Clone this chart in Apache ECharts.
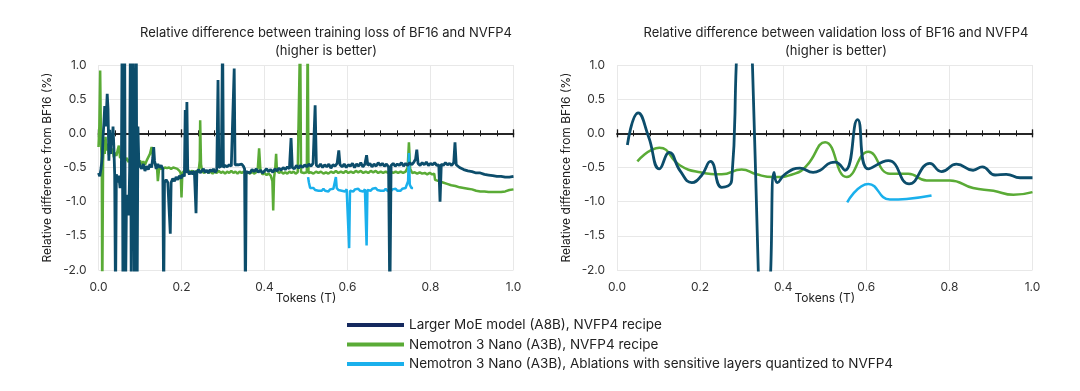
<!DOCTYPE html>
<html><head><meta charset="utf-8">
<script src="https://cdn.jsdelivr.net/npm/echarts@6/dist/echarts.min.js"></script>
<style>html,body{margin:0;padding:0;background:#fff}#c{width:1080px;height:391px}</style>
</head><body><div id="c"></div>
<script>
const seriesNames = [
  'Larger MoE model (A8B), NVFP4 recipe',
  'Nemotron 3 Nano (A3B), NVFP4 recipe',
  'Nemotron 3 Nano (A3B), Ablations with sensitive layers quantized to NVFP4'
];
const chartTitles = [
  'Relative difference between training loss of BF16 and NVFP4\n(higher is better)',
  'Relative difference between validation loss of BF16 and NVFP4\n(higher is better)'
];
const xAxisName = 'Tokens (T)';
const yAxisName = 'Relative difference from BF16 (%)';

// Training loss: Larger MoE model (A8B)
const trainMoe = [
[0.000,-0.58],[0.003,-0.63],[0.006,-0.52],[0.009,-0.35],[0.011,-0.05],[0.013,0.15],[0.015,0.40],[0.017,0.10],[0.019,0.30],[0.021,0.58],
[0.023,0.35],[0.025,-0.40],[0.027,0.05],[0.029,-0.30],[0.031,0.00],[0.033,-0.15],[0.035,0.10],[0.037,-0.20],[0.039,-0.60],[0.041,-2.50],
[0.043,-0.60],[0.046,-0.72],[0.049,-0.62],[0.052,-0.80],[0.055,-0.70],[0.057,1.50],[0.059,-2.50],[0.061,-1.10],[0.063,1.50],[0.065,-2.50],
[0.067,-1.20],[0.069,-1.05],[0.071,-0.90],[0.073,-1.20],[0.075,-0.55],[0.077,1.50],[0.079,-2.50],[0.081,0.80],[0.083,1.50],[0.085,-0.40],
[0.087,-2.50],[0.089,-0.30],[0.091,1.50],[0.093,-2.50],[0.095,0.10],[0.097,-0.40],[0.100,-0.48],[0.104,-0.52],[0.108,-0.45],[0.112,-0.55],
[0.116,-0.48],[0.120,-0.53],[0.124,-0.45],[0.128,-0.50],[0.131,-0.35],[0.133,-0.20],[0.135,-0.40],[0.139,-0.52],[0.143,-0.45],[0.147,-0.50],
[0.151,-0.47],[0.155,-0.52],[0.157,-2.50],[0.159,-0.72],[0.163,-0.68],[0.167,-0.72],[0.171,-0.70],[0.173,-1.47],[0.175,-0.72],[0.179,-0.66],
[0.183,-0.70],[0.187,-0.64],[0.191,-0.68],[0.195,-0.62],[0.199,-0.66],[0.203,-0.60],[0.207,-0.63],[0.209,0.34],[0.211,-0.58],[0.213,0.46],
[0.215,-0.55],[0.219,-0.60],[0.223,-0.56],[0.227,-0.60],[0.231,-0.55],[0.235,-1.17],[0.237,-0.57],[0.241,-0.53],[0.245,-0.58],[0.249,-0.55],
[0.253,-0.52],[0.257,-0.57],[0.261,-0.54],[0.265,-0.58],[0.269,-0.53],[0.273,-0.56],[0.277,-0.52],[0.281,-0.57],[0.285,-0.54],[0.288,0.78],
[0.290,-0.50],[0.293,-0.52],[0.296,-0.48],[0.299,1.50],[0.301,-0.50],[0.305,-0.47],[0.310,-0.49],[0.315,-0.46],[0.320,-0.48],[0.324,-0.46],
[0.327,0.95],[0.329,-0.46],[0.333,-0.48],[0.337,-0.46],[0.341,-0.47],[0.345,-0.45],[0.349,-0.48],[0.352,-0.52],[0.354,-2.50],[0.356,-0.56],
[0.360,-0.55],[0.365,-0.58],[0.370,-0.53],[0.375,-0.56],[0.380,-0.52],[0.385,-0.57],[0.390,-0.54],[0.395,-0.58],[0.400,-0.55],[0.405,-0.52],
[0.410,-0.56],[0.415,-0.53],[0.420,-0.57],[0.425,-0.52],[0.430,-0.55],[0.435,-0.51],[0.440,-0.54],[0.445,-0.50],[0.450,-0.53],[0.455,-0.49],
[0.460,-0.52],[0.464,-0.07],[0.467,-0.50],[0.472,-0.52],[0.477,-0.47],[0.482,-0.51],[0.487,-0.47],[0.492,-0.50],[0.497,-0.46],[0.502,-0.49],
[0.507,-0.45],[0.512,-0.48],[0.517,-0.44],[0.522,0.41],[0.525,-0.47],[0.530,-0.49],[0.535,-0.45],[0.540,-0.50],[0.545,-0.46],[0.550,-0.49],
[0.555,-0.45],[0.560,-0.51],[0.565,-0.46],[0.570,-0.48],[0.575,-0.44],[0.579,-0.25],[0.582,-0.46],[0.587,-0.49],[0.592,-0.45],[0.597,-0.50],
[0.602,-0.46],[0.607,-0.48],[0.612,-0.44],[0.617,-0.50],[0.622,-0.45],[0.627,-0.48],[0.632,-0.43],[0.637,-0.49],[0.642,-0.45],[0.646,-0.32],
[0.649,-0.47],[0.654,-0.44],[0.659,-0.49],[0.664,-0.45],[0.669,-0.48],[0.674,-0.43],[0.679,-0.47],[0.684,-0.44],[0.689,-0.48],[0.694,-0.45],
[0.699,-0.49],[0.702,-2.50],[0.705,-0.47],[0.710,-0.44],[0.715,-0.48],[0.720,-0.45],[0.725,-0.47],[0.730,-0.43],[0.735,-0.48],[0.740,-0.44],
[0.745,-0.47],[0.750,-0.43],[0.755,-0.46],[0.760,-0.42],[0.764,-0.38],[0.767,-0.24],[0.770,-0.44],[0.775,-0.47],[0.780,-0.43],[0.785,-0.46],
[0.790,-0.42],[0.795,-0.47],[0.800,-0.44],[0.805,-0.46],[0.810,-0.43],[0.815,-0.47],[0.820,-0.46],[0.823,-1.00],[0.826,-0.45],[0.831,-0.47],
[0.836,-0.43],[0.841,-0.46],[0.846,-0.44],[0.851,-0.47],[0.856,-0.43],[0.859,-0.13],[0.862,-0.46],[0.870,-0.50],[0.880,-0.53],[0.890,-0.55],
[0.900,-0.56],[0.910,-0.58],[0.920,-0.58],[0.930,-0.60],[0.940,-0.61],[0.950,-0.62],[0.960,-0.63],[0.970,-0.63],[0.980,-0.64],[0.990,-0.64],
[1.000,-0.63]
];

// Training loss: Nemotron 3 Nano (A3B)
const trainNano = [
[0.000,-0.20],[0.002,0.10],[0.004,0.92],[0.006,-0.10],[0.008,-0.50],[0.009,-2.50],[0.011,-0.40],[0.013,-0.10],[0.015,-0.30],[0.017,-0.05],
[0.019,-0.25],[0.022,-0.15],[0.025,-0.32],[0.028,-0.18],[0.031,-0.30],[0.034,-0.22],[0.037,-0.35],[0.040,-0.28],[0.043,-0.33],[0.046,-0.25],
[0.049,-0.18],[0.052,-0.36],[0.056,-0.38],[0.060,-0.33],[0.064,-0.40],[0.068,-0.36],[0.072,-0.42],[0.076,-0.38],[0.080,-0.44],[0.084,-0.40],
[0.088,-0.45],[0.092,-0.41],[0.096,-0.44],[0.100,-0.40],[0.104,-0.45],[0.108,-0.41],[0.112,-0.46],[0.116,-0.40],[0.120,-0.38],[0.124,-0.30],
[0.128,-0.20],[0.131,-0.32],[0.134,-0.42],[0.138,-0.40],[0.141,-0.50],[0.143,-0.70],[0.146,-0.52],[0.150,-0.50],[0.155,-0.52],[0.160,-0.50],
[0.165,-0.51],[0.170,-0.50],[0.175,-0.52],[0.180,-0.50],[0.185,-0.51],[0.190,-0.52],[0.195,-0.55],[0.198,-0.58],[0.200,-0.94],[0.202,-0.58],
[0.206,-0.55],[0.211,-0.57],[0.216,-0.54],[0.221,-0.57],[0.226,-0.55],[0.231,-0.58],[0.236,-0.55],[0.241,-0.57],[0.244,-0.40],[0.245,0.19],
[0.247,-0.45],[0.250,-0.56],[0.255,-0.58],[0.260,-0.55],[0.265,-0.58],[0.270,-0.56],[0.275,-0.59],[0.280,-0.56],[0.285,-0.58],[0.290,-0.55],
[0.295,-0.58],[0.300,-0.56],[0.305,-0.59],[0.310,-0.56],[0.315,-0.58],[0.320,-0.55],[0.325,-0.58],[0.330,-0.56],[0.335,-0.59],[0.340,-0.56],
[0.345,-0.58],[0.350,-0.56],[0.355,-0.59],[0.360,-0.57],[0.365,-0.59],[0.370,-0.56],[0.375,-0.59],[0.380,-0.57],[0.384,-0.50],[0.387,-0.22],
[0.390,-0.52],[0.395,-0.60],[0.400,-0.58],[0.405,-0.61],[0.410,-0.59],[0.415,-0.62],[0.419,-0.70],[0.421,-1.13],[0.423,-0.65],[0.426,-0.50],
[0.428,-0.30],[0.430,-0.55],[0.435,-0.58],[0.440,-0.56],[0.445,-0.59],[0.450,-0.57],[0.455,-0.59],[0.460,-0.56],[0.465,-0.58],[0.470,-0.56],
[0.475,-0.59],[0.480,-0.57],[0.484,-0.58],[0.486,1.50],[0.488,-0.57],[0.495,-0.58],[0.502,-0.57],[0.504,1.50],[0.506,-0.58],[0.512,-0.57],
[0.518,-0.59],[0.524,-0.56],[0.530,-0.58],[0.536,-0.56],[0.542,-0.59],[0.548,-0.57],[0.554,-0.59],[0.560,-0.56],[0.566,-0.58],[0.572,-0.55],
[0.578,-0.58],[0.584,-0.56],[0.590,-0.58],[0.596,-0.55],[0.602,-0.58],[0.608,-0.56],[0.614,-0.58],[0.620,-0.55],[0.626,-0.57],[0.632,-0.55],
[0.638,-0.58],[0.644,-0.56],[0.650,-0.58],[0.656,-0.55],[0.662,-0.57],[0.668,-0.55],[0.674,-0.58],[0.680,-0.56],[0.686,-0.58],[0.692,-0.56],
[0.698,-0.58],[0.704,-0.56],[0.710,-0.58],[0.716,-0.56],[0.722,-0.58],[0.728,-0.56],[0.734,-0.58],[0.740,-0.56],[0.745,-0.50],[0.748,-0.13],
[0.751,-0.52],[0.756,-0.58],[0.762,-0.57],[0.768,-0.59],[0.774,-0.57],[0.780,-0.59],[0.786,-0.58],[0.792,-0.60],[0.798,-0.58],[0.804,-0.60],
[0.809,-0.59],[0.811,-0.68],[0.820,-0.70],[0.830,-0.72],[0.840,-0.74],[0.850,-0.76],[0.860,-0.77],[0.870,-0.79],[0.880,-0.80],[0.890,-0.81],
[0.900,-0.82],[0.910,-0.84],[0.920,-0.85],[0.930,-0.85],[0.940,-0.86],[0.950,-0.86],[0.960,-0.86],[0.970,-0.86],[0.980,-0.85],[0.990,-0.83],
[1.000,-0.82]
];

// Training loss: Nemotron 3 Nano (A3B) ablations
const trainAbl = [
[0.505,-0.64],[0.507,-0.72],[0.510,-0.80],[0.514,-0.82],[0.518,-0.80],[0.522,-0.83],[0.526,-0.81],[0.530,-0.84],[0.534,-0.82],[0.538,-0.84],
[0.542,-0.81],[0.546,-0.84],[0.550,-0.82],[0.554,-0.85],[0.558,-0.82],[0.562,-0.84],[0.566,-0.81],[0.570,-0.80],[0.572,-0.64],[0.574,-0.80],
[0.578,-0.83],[0.582,-0.81],[0.586,-0.84],[0.590,-0.82],[0.594,-0.85],[0.598,-0.82],[0.602,-0.84],[0.604,-1.68],[0.606,-0.84],[0.610,-0.82],
[0.614,-0.85],[0.618,-0.82],[0.622,-0.84],[0.626,-0.81],[0.630,-0.84],[0.634,-0.82],[0.638,-0.85],[0.642,-0.82],[0.646,-1.64],[0.648,-0.83],
[0.652,-0.81],[0.656,-0.84],[0.660,-0.81],[0.664,-0.83],[0.668,-0.80],[0.672,-0.83],[0.676,-0.81],[0.680,-0.84],[0.684,-0.82],[0.688,-0.84],
[0.692,-0.81],[0.696,-0.84],[0.700,-0.82],[0.704,-0.85],[0.708,-0.82],[0.712,-0.84],[0.716,-0.81],[0.720,-0.84],[0.724,-0.82],[0.728,-0.84],
[0.732,-0.81],[0.736,-0.83],[0.740,-0.80],[0.744,-0.82],[0.746,-0.70],[0.748,-0.29],[0.750,-0.75],[0.754,-0.80],[0.758,-0.80]
];

// Validation loss
const valMoe = [
[0.025,-0.17],[0.051,0.30],[0.076,-0.05],[0.102,-0.52],[0.126,-0.28],[0.152,-0.55],[0.180,-0.72],[0.203,-0.62],[0.225,-0.41],[0.252,-0.79],
[0.276,-0.69],[0.287,1.00],[0.306,4.00],[0.326,1.00],[0.340,-2.00],[0.355,-4.50],[0.370,-2.00],[0.378,-0.57],[0.386,-0.72],[0.404,-0.60],
[0.440,-0.51],[0.472,-0.57],[0.489,-0.54],[0.514,-0.43],[0.525,-0.42],[0.549,-0.54],[0.579,0.20],[0.605,-0.52],[0.653,-0.40],[0.703,-0.74],
[0.753,-0.44],[0.781,-0.56],[0.817,-0.45],[0.857,-0.54],[0.879,-0.49],[0.910,-0.61],[0.937,-0.60],[0.970,-0.65],[1.000,-0.65]
];
const valNano = [
[0.049,-0.41],[0.102,-0.21],[0.152,-0.47],[0.200,-0.57],[0.252,-0.60],[0.300,-0.53],[0.336,-0.60],[0.376,-0.64],[0.428,-0.59],[0.457,-0.47],
[0.501,-0.13],[0.553,-0.64],[0.605,-0.27],[0.657,-0.59],[0.701,-0.59],[0.745,-0.69],[0.801,-0.69],[0.857,-0.80],[0.906,-0.84],[0.954,-0.90],
[1.000,-0.86]
];
const valAbl = [
[0.554,-1.01],[0.605,-0.74],[0.657,-0.97],[0.697,-0.96],[0.757,-0.91]
];

const COLORS = ['#0c4d6b', '#5aab36', '#1ab0ec'];
const LEGEND_COLORS = ['#15295e', '#5aab36', '#1ab0ec'];
const FONT = 'Inter, "Noto Sans", sans-serif';

const grids = [
  {left: 98.5, right: 566.5, top: 65, bottom: 121, outerBoundsMode: 'none'},
  {left: 617, right: 47.5, top: 65, bottom: 121, outerBoundsMode: 'none'}
];

function labelAxis(g) {
  return {
    gridIndex: g, type: 'value', min: 0, max: 1, interval: 0.2, position: 'bottom',
    axisLine: {show: false, onZero: false}, axisTick: {show: false},
    axisLabel: {fontSize: 12, color: '#333', margin: 11, fontFamily: FONT, formatter: v => v.toFixed(1)},
    splitLine: {show: true, lineStyle: {color: '#e8e8e8', width: 1}},
    name: xAxisName, nameLocation: 'middle', nameGap: 22, nameMoveOverlap: false,
    nameTextStyle: {fontSize: 12, color: '#222', fontFamily: FONT}
  };
}
function zeroAxis(g, yIdx, inside) {
  return {
    gridIndex: g, type: 'value', min: 0, max: 1, interval: 0.2, position: 'bottom',
    axisLine: {show: true, onZero: true, onZeroAxisIndex: yIdx, lineStyle: {color: '#1a1a1a', width: 1.5}},
    axisTick: {show: true, inside: inside, length: 4, lineStyle: {color: '#1a1a1a', width: 1.3}},
    minorTick: {show: true, splitNumber: 5, length: 3, lineStyle: {color: '#1a1a1a', width: 1}},
    axisLabel: {show: false}, splitLine: {show: false}, minorSplitLine: {show: false}
  };
}
function yAx(g) {
  return {
    gridIndex: g, type: 'value', min: -2, max: 1, interval: 0.5,
    axisLine: {show: false, onZero: false}, axisTick: {show: false},
    axisLabel: {fontSize: 12, color: '#333', margin: 12, fontFamily: FONT, formatter: v => v.toFixed(1)},
    splitLine: {show: true, lineStyle: {color: '#e8e8e8', width: 1}},
    name: yAxisName, nameLocation: 'middle', nameGap: 45, nameMoveOverlap: false,
    nameTextStyle: {fontSize: 12, color: '#222', fontFamily: FONT}
  };
}

function lineSeries(name, data, xi, yi, color, width, smooth, z) {
  return {
    type: 'line', name: name, data: data, xAxisIndex: xi, yAxisIndex: yi,
    showSymbol: false, symbol: 'none', smooth: smooth, clip: true, z: z,
    lineStyle: {color: color, width: width}, itemStyle: {color: color},
    emphasis: {disabled: true}, animation: false
  };
}

const option = {
  animation: false,
  backgroundColor: '#ffffff',
  textStyle: {fontFamily: FONT},
  grid: grids,
  xAxis: [labelAxis(0), zeroAxis(0, 0, false), zeroAxis(0, 0, true),
          labelAxis(1), zeroAxis(1, 1, false), zeroAxis(1, 1, true)],
  yAxis: [yAx(0), yAx(1)],
  legend: {
    orient: 'vertical', left: 347, top: 317, padding: 0, itemGap: 3.5, itemWidth: 57, itemHeight: 4,
    icon: 'rect',
    textStyle: {fontSize: 13.5, color: '#222', fontFamily: FONT, lineHeight: 16},
    data: seriesNames.map((n, i) => ({name: n, icon: 'rect', itemStyle: {color: LEGEND_COLORS[i]}}))
  },
  graphic: chartTitles.map((t, i) => ({
    type: 'text', x: i === 0 ? 326 : 836, y: 42,
    style: {text: t, fontSize: 13, fill: '#222', fontFamily: FONT, align: 'center', verticalAlign: 'middle', lineHeight: 18}
  })),
  series: [
    lineSeries(seriesNames[1], trainNano, 0, 0, COLORS[1], 2.5, false, 2),
    lineSeries(seriesNames[2], trainAbl, 0, 0, COLORS[2], 2.5, false, 3),
    lineSeries(seriesNames[0], trainMoe, 0, 0, COLORS[0], 2.8, false, 4),
    lineSeries(seriesNames[1], valNano, 3, 1, COLORS[1], 2.5, true, 2),
    lineSeries(seriesNames[2], valAbl, 3, 1, COLORS[2], 2.5, true, 3),
    lineSeries(seriesNames[0], valMoe, 3, 1, COLORS[0], 2.8, true, 4)
  ]
};

const chart = echarts.init(document.getElementById('c'), null, {renderer: 'canvas'});
chart.setOption(option);
</script>
</body></html>
